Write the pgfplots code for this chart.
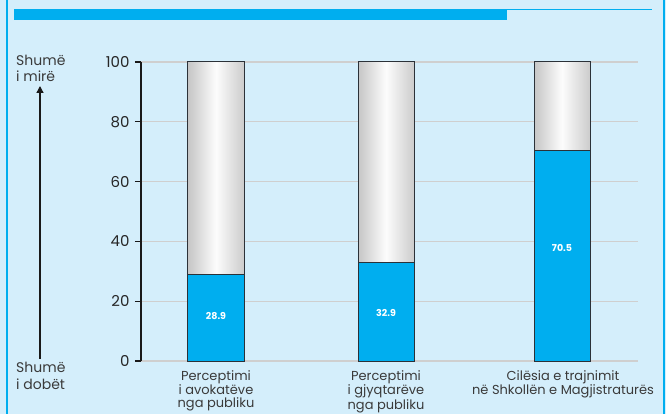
\documentclass[border=0pt]{standalone}
\usepackage{fontspec}
\setmainfont{Poppins}
\usepackage{pgfplots}
\pgfplotsset{compat=1.18}
\usetikzlibrary{arrows.meta}

\definecolor{bgblue}{HTML}{D4EEFB}
\definecolor{cyanbar}{HTML}{00AEEF}
\definecolor{gridgray}{HTML}{CFCFCF}
\definecolor{edge}{HTML}{2B3138}
\definecolor{txt}{HTML}{3A3A3A}

\pgfplotsset{graybar/.style={ybar, bar width=56, draw=edge, line width=1pt,
    left color=gray!45, right color=gray!40, middle color=white!98!gray}}

\begin{document}
\begin{tikzpicture}
% decorations in page pixels; axis box sits at (141,53) of the page
\begin{scope}[shift={(-141pt,-53pt)}]
\fill[bgblue] (0pt,0pt) rectangle (666pt,414pt);
\fill[cyanbar] (6pt,0pt) rectangle (8.5pt,414pt);
\fill[cyanbar] (663pt,0pt) rectangle (665pt,414pt);
\fill[cyanbar] (14pt,403.5pt) rectangle (652pt,404.5pt);
\fill[cyanbar] (14pt,394pt) rectangle (507pt,404pt);
\node[anchor=base west, inner sep=0pt, txt, font=\fontsize{14}{16}\selectfont] at (16pt,348pt) {Shumë};
\node[anchor=base west, inner sep=0pt, txt, font=\fontsize{14}{16}\selectfont] at (16pt,332pt) {i mirë};
\node[anchor=base west, inner sep=0pt, txt, font=\fontsize{14}{16}\selectfont] at (16pt,41pt) {Shumë};
\node[anchor=base west, inner sep=0pt, txt, font=\fontsize{14}{16}\selectfont] at (16pt,25pt) {i dobët};
\draw[black!90, line width=1.3pt, -{Triangle[length=7pt,width=7pt]}] (40pt,55pt) -- (40pt,328pt);
\end{scope}

\begin{axis}[
    scale only axis, width=497pt, height=299pt,
    xmin=141, xmax=638, ymin=0, ymax=100,
    axis x line*=bottom, axis y line*=left,
    x axis line style={draw=none},
    y axis line style={black!90, line width=1.3pt},
    ytick={0,20,40,60,80,100},
    ytick style={black!90, line width=1.3pt},
    tick align=outside, major tick length=6pt,
    ymajorgrids, grid style={gridgray, line width=1.2pt},
    yticklabel style={font=\fontsize{15}{17}\selectfont, black!85, xshift=-2pt},
    /pgf/number format/assume math mode=true,
    xtick={216,386,563},
    xtick style={draw=none},
    xticklabels={Perceptimi\\i avokatëve\\nga publiku, Perceptimi\\i gjyqtarëve\\nga publiku, Cilësia e trajnimit\\në Shkollën e Magjistraturës},
    xticklabel style={align=center, txt, font=\fontsize{13}{13}\selectfont, yshift=0pt},
]
\addplot[graybar] coordinates {(216,100)};
\addplot[graybar] coordinates {(386,100)};
\addplot[graybar] coordinates {(562,100)};
\addplot[ybar, bar width=56, fill=cyanbar, draw=edge, line width=1pt]
    coordinates {(216,28.9) (386,32.9) (562,70.5)};
\addplot[only marks, mark=none, point meta=explicit symbolic,
    nodes near coords, nodes near coords align={center},
    nodes near coords style={white, font=\fontsize{9.5}{10}\selectfont\bfseries}]
    coordinates {(216,15)[28.9] (386,16)[32.9] (562,37.8)[70.5]};
\end{axis}
\end{tikzpicture}
\end{document}
